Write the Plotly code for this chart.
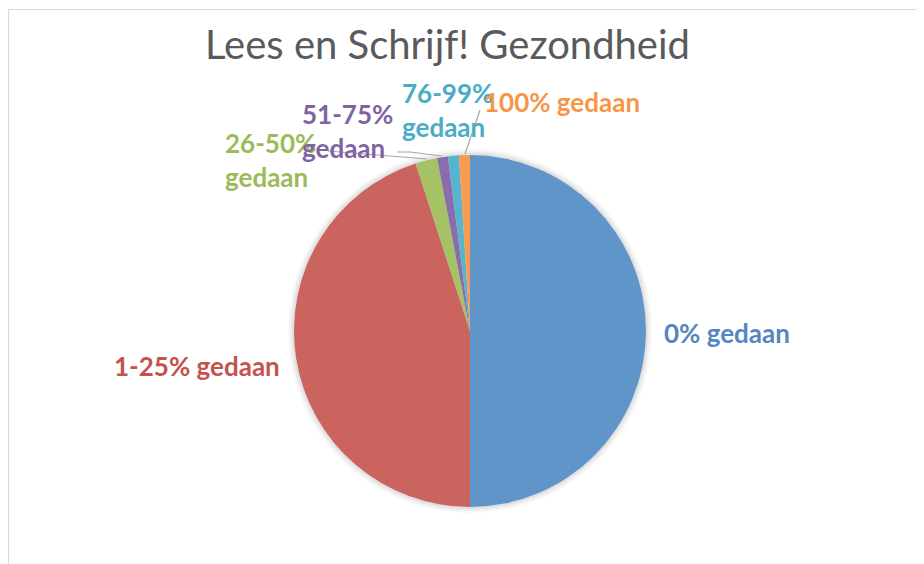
import plotly.graph_objects as go

# ---- data ----
labels = ["0% gedaan", "1-25% gedaan", "26-50% gedaan", "51-75% gedaan", "76-99% gedaan", "100% gedaan"]
values = [50, 45, 2, 1, 1, 1]
title_text = "Lees en Schrijf! Gezondheid"

# ---- styling ----
slice_colors = ["#6095C9", "#CB635F", "#A5C264", "#8B6DAE", "#56B4CF", "#F99B4E"]
label_colors = ["#5685BF", "#C5524E", "#9BBB59", "#8064A2", "#4BACC6", "#F79646"]
label_text = ["0% gedaan", "1-25% gedaan", "26-50%<br>gedaan", "51-75%<br>gedaan", "76-99%<br>gedaan", "100% gedaan"]
# label centres in screen pixels (x, y)
label_pos = [(727, 333), (197, 366), (270, 160), (347, 131), (447, 110), (562, 102)]

OFF = 8  # page body margin offset
W, H = 924 - OFF, 564 - OFF


def px(x, y):
    return (x - OFF) / W, 1 - (y - OFF) / H


cx, cy, r = 470, 331, 176

fig = go.Figure()
d0x, d0y = px(cx - r, cy + r)
d1x, d1y = px(cx + r, cy - r)
fig.add_trace(go.Pie(
    labels=labels,
    values=values,
    sort=False,
    direction="clockwise",
    rotation=0,
    marker=dict(colors=slice_colors, line=dict(width=0)),
    textinfo="none",
    hoverinfo="label+value",
    showlegend=False,
    domain=dict(x=[d0x, d1x], y=[d0y, d1y]),
))

annotations = []
for txt, col, (x, y) in zip(label_text, label_colors, label_pos):
    ax, ay = px(x, y)
    annotations.append(dict(
        x=ax, y=ay, xref="paper", yref="paper", text="<b>" + txt + "</b>",
        showarrow=False, xanchor="center", yanchor="middle", align="left",
        font=dict(family="Lato", size=26, color=col),
    ))

tx, ty = px(447, 44)
annotations.append(dict(
    x=tx, y=ty, xref="paper", yref="paper", text=title_text, showarrow=False,
    xanchor="center", yanchor="middle",
    font=dict(family="Lato", size=40, color="#5A5A5A"),
))

# leader lines (screen pixel paths)
leaders = [
    [(328, 151), (427, 159)],
    [(397, 152), (410, 152), (442, 156)],
    [(480, 110), (465, 154)],
]
shapes = []
for path in leaders:
    d = "M " + " L ".join(f"{px(x, y)[0]},{px(x, y)[1]}" for x, y in path)
    shapes.append(dict(type="path", path=d, xref="paper", yref="paper",
                       line=dict(color="#A6A6A6", width=1.2)))

# soft shadow behind pie
for k, op in [(6, 0.03), (4, 0.04), (2, 0.05)]:
    x0, y0 = px(cx - r - k, cy + r + k)
    x1, y1 = px(cx + r + k, cy - r - k)
    shapes.insert(0, dict(type="circle", xref="paper", yref="paper", x0=x0, y0=y0, x1=x1, y1=y1,
                          fillcolor=f"rgba(0,0,0,{op})", line=dict(width=0), layer="below"))

# chart border (left and top edges only visible)
bx0, by0 = px(8.5, 9.5)
shapes.append(dict(type="path", path=f"M {bx0},-0.05 L {bx0},{by0} L 1.05,{by0}",
                   xref="paper", yref="paper", line=dict(color="#D9D9D9", width=1.2)))

fig.update_layout(
    width=W, height=H,
    margin=dict(l=0, r=0, t=0, b=0),
    paper_bgcolor="white", plot_bgcolor="white",
    annotations=annotations, shapes=shapes,
)

fig.write_html("out.html")
